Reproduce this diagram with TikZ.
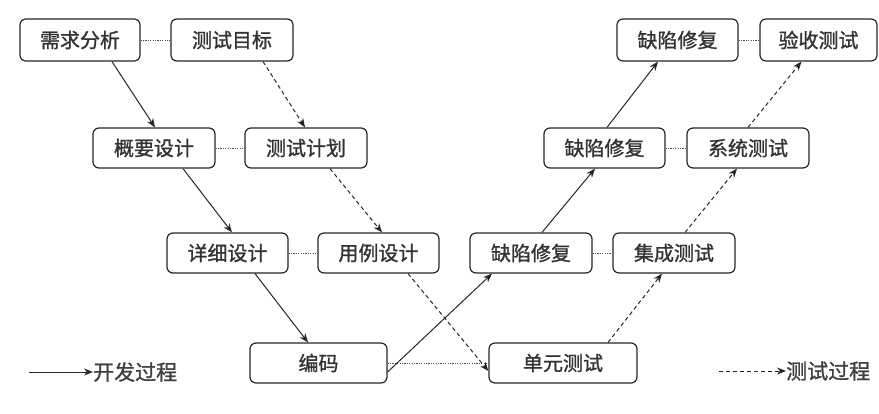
\documentclass[tikz,border=0pt]{standalone}
\usepackage{fontspec}
\newfontfamily\cjk[FakeBold=1.2]{Noto Sans CJK SC}
\usetikzlibrary{arrows.meta}
\begin{document}
\begin{tikzpicture}[x=1pt,y=-1pt,
  box/.style={draw=black!85,line width=1.2pt,rounded corners=6pt,minimum height=40pt,
    inner sep=0pt,font=\cjk\fontsize{20}{22}\selectfont,text=black!80},
  dev/.style={line width=1pt,draw=black!85,-{Stealth[length=9pt,width=7pt]}},
  tst/.style={line width=1pt,draw=black!85,dash pattern=on 4pt off 3pt,-{Stealth[length=9pt,width=7pt]}},
  link/.style={line width=1pt,draw=black!70,dash pattern=on 1.2pt off 1.2pt},
  lbl/.style={font=\cjk\fontsize{21}{23}\selectfont,text=black!75,inner sep=0pt,anchor=west}]
\useasboundingbox (0,0) rectangle (879,413);
% row 1
\node[box,minimum width=120pt,minimum height=42pt] (req) at (80,40) {需求分析};
\node[box,minimum width=122pt,minimum height=42pt] (goal) at (232,40) {测试目标};
\node[box,minimum width=121pt,minimum height=42pt] (fix1) at (677.5,40) {缺陷修复};
\node[box,minimum width=117pt,minimum height=42pt] (acc) at (818.5,40) {验收测试};
% row 2
\node[box,minimum width=122pt] (hld) at (154,148) {概要设计};
\node[box,minimum width=122pt] (plan) at (306,148) {测试计划};
\node[box,minimum width=121pt] (fix2) at (604.5,148) {缺陷修复};
\node[box,minimum width=122pt] (sys) at (748,148) {系统测试};
% row 3
\node[box,minimum width=121pt] (lld) at (227.5,253) {详细设计};
\node[box,minimum width=121pt] (case) at (378.5,253) {用例设计};
\node[box,minimum width=122pt] (fix3) at (531,253) {缺陷修复};
\node[box,minimum width=122pt] (int) at (674,253) {集成测试};
% row 4
\node[box,minimum width=137pt] (code) at (318.5,363) {编码};
\node[box,minimum width=148pt] (unit) at (563,363) {单元测试};
% dotted links
\draw[link] (req) -- (goal);
\draw[link] (hld) -- (plan);
\draw[link] (lld) -- (case);
\draw[link] (code) -- (unit);
\draw[link] (fix3) -- (int);
\draw[link] (fix2) -- (sys);
\draw[link] (fix1) -- (acc);
% development process
\draw[dev] ([xshift=32pt]req.south) -- ([xshift=1pt]hld.north);
\draw[dev] ([xshift=29pt]hld.south) -- ([xshift=4.5pt]lld.north);
\draw[dev] ([xshift=27.5pt]lld.south) -- ([xshift=-10.5pt]code.north);
\draw[dev] ([yshift=-9pt]code.east) -- ([xshift=-39pt]fix3.south);
\draw[dev] ([xshift=11pt]fix3.north) -- ([xshift=-9.5pt]fix2.south);
\draw[dev] ([xshift=2.5pt]fix2.north) -- ([xshift=-19.5pt]fix1.south);
% test process
\draw[tst] ([xshift=31pt]goal.south) -- ([xshift=-1pt]plan.north);
\draw[tst] ([xshift=24pt]plan.south) -- ([xshift=3.5pt]case.north);
\draw[tst] ([xshift=29.5pt]case.south) -- ([yshift=-8pt]unit.west);
\draw[tst] ([xshift=45pt]unit.north) -- ([xshift=-12pt]int.south);
\draw[tst] ([xshift=11pt]int.north) -- ([xshift=-11pt]sys.south);
\draw[tst] (sys.north) -- ([xshift=-17pt]acc.south);
% legend
\node[lbl] (devl) at (93,372) {开发过程};
\coordinate (devs) at (29,372);
\draw[dev] (devs) -- (devl.west);
\node[lbl] (tstl) at (786,371) {测试过程};
\coordinate (tsts) at (719,371);
\draw[tst] (tsts) -- (tstl.west);
\end{tikzpicture}
\end{document}
